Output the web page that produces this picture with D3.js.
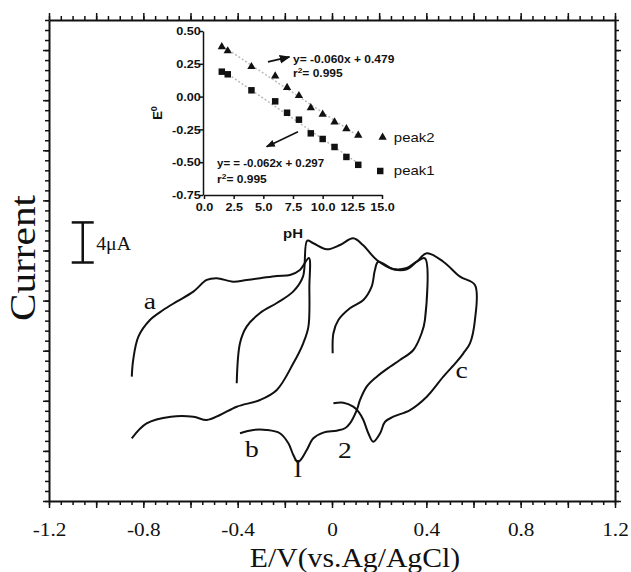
<!DOCTYPE html>
<html>
<head>
<meta charset="utf-8">
<script src="https://cdn.jsdelivr.net/npm/d3@7"></script>
<style>
body { margin: 0; background: #fff; }
</style>
</head>
<body>
<div id="chart-area"></div>
<script>
// cyclic voltammograms: potential (V vs Ag/AgCl) and current (uA, offset)
var curveAE = [-0.849, -0.843, -0.821, -0.772, -0.716, -0.659, -0.588, -0.531, -0.489, -0.419, -0.362, -0.305, -0.234, -0.178, -0.136, -0.098,
    -0.096, -0.100, -0.122, -0.164, -0.234, -0.305, -0.404, -0.475, -0.531, -0.588, -0.683, -0.786, -0.849];
var curveAI = [12.41, 14.07, 16.40, 18.06, 19.06, 19.89, 20.89, 22.06, 22.23, 21.89, 22.06, 22.23, 22.46, 22.55, 23.05, 24.25,
    21.39, 17.40, 15.74, 13.74, 11.08, 10.08, 9.41, 8.58, 8.08, 8.41, 8.41, 7.75, 6.26];

var curveBE = [-0.404, -0.390, -0.362, -0.305, -0.234, -0.165, -0.123, -0.105, -0.079, -0.022, 0.034, 0.090, 0.131, 0.190, 0.259, 0.317, 0.359, 0.394,
    0.394, 0.380, 0.345, 0.288, 0.246, 0.190, 0.147, 0.119, 0.105, 0.076, 0.055, 0.020, -0.037, -0.079, -0.107, -0.136, -0.147, -0.164, -0.185, -0.221, -0.277, -0.334, -0.390];
var curveBI = [11.75, 15.77, 17.40, 18.76, 19.76, 20.89, 22.39, 25.98, 25.72, 25.12, 25.55, 26.22, 25.55, 24.05, 23.15, 23.25, 23.88, 24.22,
    18.06, 16.74, 15.07, 14.07, 13.40, 12.41, 11.41, 10.08, 9.08, 7.75, 7.26, 7.02, 6.82, 6.26, 5.09, 4.02, 3.92, 4.59, 5.76, 6.76, 7.09, 7.09, 6.76];

var curveCE = [0.003, 0.006, 0.027, 0.076, 0.133, 0.168, 0.182, 0.196, 0.260, 0.317, 0.359, 0.402, 0.472, 0.543, 0.606,
    0.606, 0.585, 0.557, 0.529, 0.472, 0.402, 0.331, 0.260, 0.225, 0.204, 0.175, 0.154, 0.133, 0.112, 0.090, 0.048, 0.006];
var curveCI = [14.74, 16.74, 18.06, 19.23, 20.06, 21.39, 23.05, 23.88, 23.12, 23.12, 23.88, 24.72, 23.88, 22.39, 21.56,
    18.06, 15.74, 14.74, 13.90, 12.41, 10.41, 9.08, 8.41, 7.91, 6.76, 5.92, 6.76, 8.08, 8.91, 9.41, 9.81, 9.75];

// inset: formal potential vs pH
var phValues = [1.5, 2, 4, 6, 7, 8, 9, 10, 11, 12, 13];
var peak1E = [0.19, 0.17, 0.048, -0.036, -0.123, -0.176, -0.28, -0.323, -0.384, -0.46, -0.52];
var peak2E = [0.38, 0.348, 0.228, 0.157, 0.068, 0.007, -0.085, -0.135, -0.194, -0.245, -0.295];
var fitSlope = [-0.062, -0.060];
var fitIntercept = [0.297, 0.479];

var xTickLabels = [-1.2, -0.8, -0.4, 0, 0.4, 0.8, 1.2];
var insetXTicks = [0, 2.5, 5, 7.5, 10, 12.5, 15];
var insetYTicks = [0.5, 0.25, 0, -0.25, -0.5, -0.75];

var width = 631, height = 572;
var serif = "'Liberation Serif', 'Times New Roman', serif";
var sans = "'Liberation Sans', Arial, sans-serif";

var svg = d3.select("#chart-area")
    .append("svg")
    .attr("width", width)
    .attr("height", height);

svg.append("rect").attr("width", width).attr("height", height).attr("fill", "#fff");

// Scales
var x = d3.scaleLinear().domain([-1.2, 1.2]).range([49, 615]);
var y = d3.scaleLinear().domain([0, 48]).range([501, 20]);

// stretched text helper (the source figure is a bit wider than tall)
function stext(parent, px, py, str, size, sx, family, anchor, weight) {
    return parent.append("text")
        .attr("transform", "translate(" + px + "," + py + ") scale(" + sx + ",1)")
        .attr("font-family", family)
        .attr("font-size", size + "px")
        .attr("font-weight", weight || "normal")
        .attr("text-anchor", anchor || "middle")
        .attr("fill", "#111")
        .text(str);
}

function styleAxis(sel) {
    sel.select(".domain").attr("stroke", "#111").attr("stroke-width", 2);
    sel.selectAll(".tick line").attr("stroke", "#111").attr("stroke-width", 1.5);
}

// X axes (bottom and top), minor / mid / labelled ticks
var minorX = d3.range(-1.2, 1.2001, 0.05).map(function(d) { return +d.toFixed(2); });
var midX = d3.range(-1.2, 1.2001, 0.2).map(function(d) { return +d.toFixed(2); });

[["bottom", 501, d3.axisBottom], ["top", 20, d3.axisTop]].forEach(function(a) {
    var g1 = svg.append("g").attr("transform", "translate(0," + a[1] + ")")
        .call(a[2](x).tickValues(minorX).tickSize(4).tickSizeOuter(0).tickFormat(""));
    styleAxis(g1);
    var g2 = svg.append("g").attr("transform", "translate(0," + a[1] + ")")
        .call(a[2](x).tickValues(midX).tickSize(7).tickSizeOuter(0).tickFormat(""));
    styleAxis(g2);
    g2.select(".domain").remove();
});

var xLab = svg.append("g").attr("transform", "translate(0,501)")
    .call(d3.axisBottom(x).tickValues(xTickLabels).tickSize(0).tickPadding(22)
        .tickFormat(function(d) { return d === 0 ? "0" : d3.format(".1f")(d).replace("\u2212", "-"); }));
xLab.select(".domain").remove();
xLab.selectAll("text")
    .attr("font-family", serif)
    .attr("font-size", "19px")
    .attr("fill", "#111")
    .attr("transform", "scale(1.12,1)");

// Y axes (left and right), no labels
var minorY = d3.range(0, 48.01, 1);
var midY = d3.range(0, 48.01, 5);
[["left", 49, d3.axisLeft], ["right", 615, d3.axisRight]].forEach(function(a) {
    var g1 = svg.append("g").attr("transform", "translate(" + a[1] + ",0)")
        .call(a[2](y).tickValues(minorY).tickSize(4).tickSizeOuter(0).tickFormat(""));
    styleAxis(g1);
    var g2 = svg.append("g").attr("transform", "translate(" + a[1] + ",0)")
        .call(a[2](y).tickValues(midY).tickSize(6).tickSizeOuter(0).tickFormat(""));
    styleAxis(g2);
    g2.select(".domain").remove();
});

// axis titles
stext(svg, 355, 567, "E/V(vs.Ag/AgCl)", 27, 1.1, serif);
svg.append("text")
    .attr("transform", "translate(35,258) rotate(-90)")
    .attr("font-family", serif)
    .attr("font-size", "35px")
    .attr("text-anchor", "middle")
    .attr("textLength", 126)
    .attr("lengthAdjust", "spacingAndGlyphs")
    .attr("fill", "#111")
    .text("Current");

// CV curves
var line = d3.line()
    .x(function(d) { return x(d[0]); })
    .y(function(d) { return y(d[1]); })
    .curve(d3.curveCatmullRom.alpha(0.5));

[[curveAE, curveAI], [curveBE, curveBI], [curveCE, curveCI]].forEach(function(c) {
    svg.append("path")
        .datum(d3.zip(c[0], c[1]))
        .attr("fill", "none")
        .attr("stroke", "#111")
        .attr("stroke-width", 2)
        .attr("stroke-linejoin", "round")
        .attr("d", line);
});

// scale bar 4 uA
var barE = -1.057, barLow = 23.8, barHigh = 27.8;
svg.append("line").attr("x1", x(barE)).attr("x2", x(barE)).attr("y1", y(barLow)).attr("y2", y(barHigh))
    .attr("stroke", "#111").attr("stroke-width", 2.5);
[barLow, barHigh].forEach(function(v) {
    svg.append("line").attr("x1", x(barE) - 11).attr("x2", x(barE) + 11).attr("y1", y(v)).attr("y2", y(v))
        .attr("stroke", "#111").attr("stroke-width", 2.5);
});
stext(svg, x(-1.0), y(25.0), "4\u03bcA", 18, 1.1, serif, "start");

// curve and peak labels
stext(svg, x(-0.772), y(19.2), "a", 23, 1.2, serif);
stext(svg, x(-0.34), y(4.4), "b", 23, 1.2, serif);
stext(svg, x(0.55), y(12.3), "c", 23, 1.2, serif);
stext(svg, x(-0.145), y(2.4), "l", 25, 1.2, serif);
stext(svg, x(0.055), y(4.3), "2", 23, 1.2, serif);

// ---------- inset ----------
var xi = d3.scaleLinear().domain([0, 15]).range([204, 382]);
var yi = d3.scaleLinear().domain([-0.75, 0.5]).range([195, 31]);

var gxi = svg.append("g").attr("transform", "translate(0,195)")
    .call(d3.axisBottom(xi).tickValues(insetXTicks).tickSize(4).tickPadding(4).tickSizeOuter(0)
        .tickFormat(function(d) { return d.toFixed(1); }));
var gyi = svg.append("g").attr("transform", "translate(203,0)")
    .call(d3.axisLeft(yi).tickValues(insetYTicks).tickSize(4).tickSizeOuter(0)
        .tickFormat(function(d) { return d.toFixed(2); }));
[gxi, gyi].forEach(function(g) {
    g.select(".domain").attr("stroke", "#111").attr("stroke-width", 1.5);
    g.selectAll(".tick line").attr("stroke", "#111").attr("stroke-width", 1.5);
    g.selectAll("text")
        .attr("font-family", sans)
        .attr("font-weight", "bold")
        .attr("font-size", "11.5px")
        .attr("fill", "#111");
});
gxi.selectAll("text").attr("transform", "scale(1.1,1)");
gyi.selectAll("text").attr("x", -2).attr("transform", "scale(1.1,1)");

stext(svg, 293, 238, "pH", 13, 1.15, sans, "middle", "bold");
var eLab = svg.append("text")
    .attr("transform", "translate(162,113) rotate(-90)")
    .attr("font-family", sans)
    .attr("font-weight", "bold")
    .attr("font-size", "13px")
    .attr("text-anchor", "middle")
    .attr("fill", "#111");
eLab.append("tspan").text("E");
eLab.append("tspan").attr("dy", -5).attr("font-size", "9px").text("0");

// fitted lines
fitSlope.forEach(function(m, i) {
    var p0 = phValues[0], p1 = phValues[phValues.length - 1];
    svg.append("line")
        .attr("x1", xi(p0)).attr("y1", yi(m * p0 + fitIntercept[i]))
        .attr("x2", xi(p1)).attr("y2", yi(m * p1 + fitIntercept[i]))
        .attr("stroke", "#bbb").attr("stroke-width", 1.5).attr("stroke-dasharray", "2,2");
});

var tri = d3.symbol().type(d3.symbolTriangle).size(30);
var sq = d3.symbol().type(d3.symbolSquare).size(42);

svg.selectAll(".p2").data(d3.zip(phValues, peak2E)).enter().append("path")
    .attr("class", "p2").attr("d", tri).attr("fill", "#111")
    .attr("transform", function(d) { return "translate(" + xi(d[0]) + "," + yi(d[1]) + ")"; });
svg.selectAll(".p1").data(d3.zip(phValues, peak1E)).enter().append("path")
    .attr("class", "p1").attr("d", sq).attr("fill", "#111")
    .attr("transform", function(d) { return "translate(" + xi(d[0]) + "," + yi(d[1]) + ")"; });

// legend
svg.append("path").attr("d", tri).attr("fill", "#111")
    .attr("transform", "translate(" + xi(15.05) + "," + yi(-0.31) + ")");
svg.append("path").attr("d", sq).attr("fill", "#111")
    .attr("transform", "translate(" + xi(14.85) + "," + yi(-0.567) + ")");
stext(svg, xi(16.0), yi(-0.345), "peak2", 13, 1.15, sans, "start");
stext(svg, xi(16.0), yi(-0.6), "peak1", 13, 1.15, sans, "start");

// equations and arrows
svg.append("defs").append("marker")
    .attr("id", "ah").attr("viewBox", "0 0 10 10").attr("refX", 9).attr("refY", 5)
    .attr("markerWidth", 6).attr("markerHeight", 6).attr("orient", "auto")
    .append("path").attr("d", "M0,1 L10,5 L0,9 z").attr("fill", "#111");

svg.append("line")
    .attr("x1", xi(5.39)).attr("y1", yi(0.264)).attr("x2", xi(7.2)).attr("y2", yi(0.302))
    .attr("stroke", "#111").attr("stroke-width", 1.8).attr("marker-end", "url(#ah)");
svg.append("line")
    .attr("x1", xi(7.92)).attr("y1", yi(-0.268)).attr("x2", xi(5.28)).attr("y2", yi(-0.382))
    .attr("stroke", "#111").attr("stroke-width", 1.5).attr("marker-end", "url(#ah)");

stext(svg, xi(7.5), yi(0.256), "y= -0.060x + 0.479", 10, 1.2, sans, "start", "bold");
var r1 = stext(svg, xi(7.5), yi(0.149), "r", 10, 1.2, sans, "start", "bold");
r1.append("tspan").attr("dy", -4).attr("font-size", "7px").text("2");
r1.append("tspan").attr("dy", 4).text("= 0.995");
stext(svg, xi(1.1), yi(-0.534), "y= = -0.062x + 0.297", 10, 1.15, sans, "start", "bold");
var r2 = stext(svg, xi(1.1), yi(-0.656), "r", 10, 1.2, sans, "start", "bold");
r2.append("tspan").attr("dy", -4).attr("font-size", "7px").text("2");
r2.append("tspan").attr("dy", 4).text("= 0.995");
</script>
</body>
</html>
